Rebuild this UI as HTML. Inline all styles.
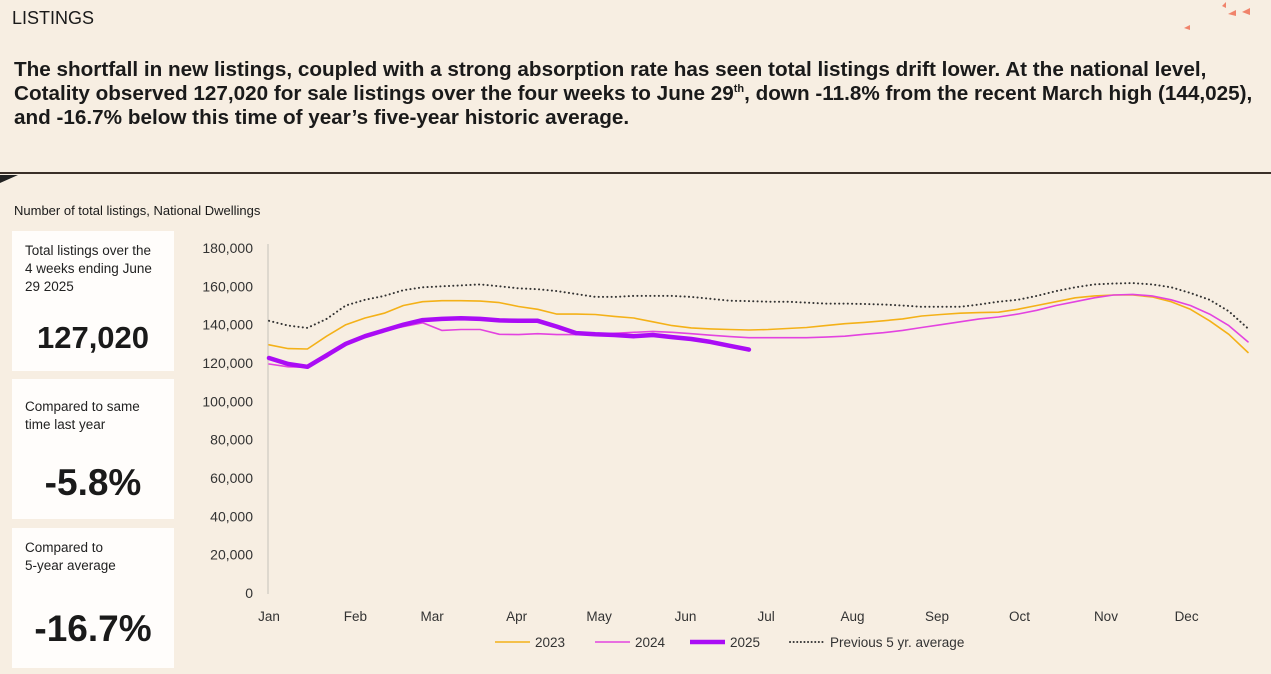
<!DOCTYPE html>
<html><head><meta charset="utf-8">
<style>
body{margin:0;width:1271px;height:674px;background:#f7eee2;font-family:"Liberation Sans",sans-serif;color:#1a1a1a;position:relative;overflow:hidden}
.abs{position:absolute}
.card{position:absolute;left:12px;width:162px;background:#fffdfb}
.card .lab{position:absolute;left:13px;font-size:13.5px;line-height:18px;color:#222}
.card .big{position:absolute;left:0;width:162px;text-align:center;font-size:33px;font-weight:bold;color:#1a1a1a}
</style></head><body>
<div class="abs" style="left:12px;top:8px;font-size:18px;">LISTINGS</div>
<svg class="abs" style="left:1180px;top:0" width="91" height="35">
<polygon points="42,6 46,2 46,8" fill="#f0836b"/><polygon points="48,14 56,10 56,16" fill="#f0836b"/><polygon points="62,12 70,8 70,15" fill="#f0836b"/><polygon points="4,28 10,25 10,30" fill="#f0836b"/></svg>
<div class="abs" style="left:14px;top:58px;width:1260px;font-size:20.7px;font-weight:bold;line-height:24px;white-space:nowrap;">The shortfall in new listings, coupled with a strong absorption rate has seen total listings drift lower. At the national level,<br>Cotality observed 127,020 for sale listings over the four weeks to June 29<sup style="font-size:11px;line-height:0">th</sup>, down -11.8% from the recent March high (144,025),<br>and -16.7% below this time of year’s five-year historic average.</div>
<div class="abs" style="left:0;top:172px;width:1271px;height:2px;background:#3a2f28"></div>
<svg class="abs" style="left:0;top:175px" width="20" height="10"><polygon points="0,0 18,0 0,8" fill="#222"/></svg>
<div class="abs" style="left:14px;top:203px;font-size:13px;">Number of total listings, National Dwellings</div>

<div class="card" style="top:231px;height:140px">
<div class="lab" style="top:11px">Total listings over the<br>4 weeks ending June<br>29 2025</div>
<div class="big" style="top:89px;font-size:31px">127,020</div></div>
<div class="card" style="top:379px;height:140px">
<div class="lab" style="top:19px">Compared to same<br>time last year</div>
<div class="big" style="top:83px;font-size:37px">-5.8%</div></div>
<div class="card" style="top:528px;height:140px">
<div class="lab" style="top:11px">Compared to<br>5-year average</div>
<div class="big" style="top:80px;font-size:37px">-16.7%</div></div>

<svg class="abs" id="chart" style="left:0;top:0" width="1271" height="674"></svg>
<script>
const yTicks=[0,20000,40000,60000,80000,100000,120000,140000,160000,180000];
const months=["Jan","Feb","Mar","Apr","May","Jun","Jul","Aug","Sep","Oct","Nov","Dec"];
const monthWeeks=[0,4.5,8.5,12.9,17.2,21.7,25.9,30.4,34.8,39.1,43.6,47.8];
const s2023=[129.5,127.5,127.3,134,140,143.5,146,150,152,152.5,152.5,152.3,151.5,149.5,148,145.5,145.5,145.3,144.3,143.5,141.5,139.5,138.3,137.8,137.5,137.2,137.5,138,138.5,139.5,140.5,141.2,142,143,144.5,145.3,146,146.3,146.5,148,150,152,154,155,155.5,155.5,154.5,152,148,142,135,125.5];
const s2024=[119.5,118,117.8,123,130,134,137,139,141,137,137.5,137.5,135,134.8,135.3,134.8,134.8,135,135.5,136,136.5,136,135.3,134.5,133.8,133.2,133.2,133.2,133.2,133.5,134,135,135.8,137,138.5,140,141.5,143,144,145.5,147.5,150,152,154,155.5,155.8,155,153,150,145.5,139.5,131];
const s2025=[122.6,119.5,118,124,130,134,137,140,142.4,143,143.3,143,142.2,142,142,139,135.6,135,134.6,134,134.6,133.5,132.5,131,129,127];
const sAvg=[142,139.5,138.3,143,150,153,155,158,159.5,160,160.5,161,160,159,158.5,157.5,156,154.5,154.5,155,155,155,154.5,153.5,152.5,152.3,152,152,151.5,151,151,150.8,150.5,150,149.3,149.3,149.3,150.5,152,153,155,157.5,159.5,161,161.5,161.7,161,159.5,156.5,153,147,138];
const X0=269,X1=1248,Y0=593,Y1=248;
const xw=w=>X0+w*(X1-X0)/51;
const yv=v=>Y0-(v/180000)*(Y0-Y1);
const svg=document.getElementById('chart');const NS="http://www.w3.org/2000/svg";
function mk(t,a){const e=document.createElementNS(NS,t);for(const k in a)e.setAttribute(k,a[k]);svg.appendChild(e);return e;}
const ax=mk('line',{x1:268,y1:244,x2:268,y2:594,stroke:'#d6d0c8','stroke-width':1.5});


yTicks.forEach(v=>{const t=mk('text',{x:253,y:yv(v)+5,'text-anchor':'end','font-size':14,fill:'#333','font-family':'Liberation Sans'});t.textContent=v.toLocaleString('en-US');

});
months.forEach((m,i)=>{const t=mk('text',{x:xw(monthWeeks[i]),y:621,'text-anchor':'middle','font-size':13.5,fill:'#333','font-family':'Liberation Sans'});t.textContent=m;

});
function line(arr,st,name){const p=arr.map((v,i)=>xw(i).toFixed(1)+','+yv(v*1000).toFixed(1)).join(' ');const e=mk('polyline',Object.assign({points:p,fill:'none','stroke-linejoin':'round','stroke-linecap':'round'},st));

}
line(sAvg,{stroke:'#333','stroke-width':2,'stroke-dasharray':'0.1 4.2'},'series-5yr-average');
line(s2023,{stroke:'#f4b118','stroke-width':1.6},'series-2023');
line(s2024,{stroke:'#e343e0','stroke-width':1.6},'series-2024');
line(s2025,{stroke:'#aa0cf5','stroke-width':4.5},'series-2025');
const leg=[["2023",495,{stroke:'#f4b118','stroke-width':1.6}],["2024",595,{stroke:'#e343e0','stroke-width':1.6}],["2025",690,{stroke:'#aa0cf5','stroke-width':4.5}],["Previous 5 yr. average",790,{stroke:'#333','stroke-width':2,'stroke-dasharray':'0.1 3.5','stroke-linecap':'round'}]];
leg.forEach(([lab,x,st])=>{const l=mk('line',Object.assign({x1:x,y1:642,x2:x+35,y2:642},st));


const t=mk('text',{x:x+40,y:647,'font-size':13.5,fill:'#333','font-family':'Liberation Sans'});t.textContent=lab;

});
</script>
</body></html>
